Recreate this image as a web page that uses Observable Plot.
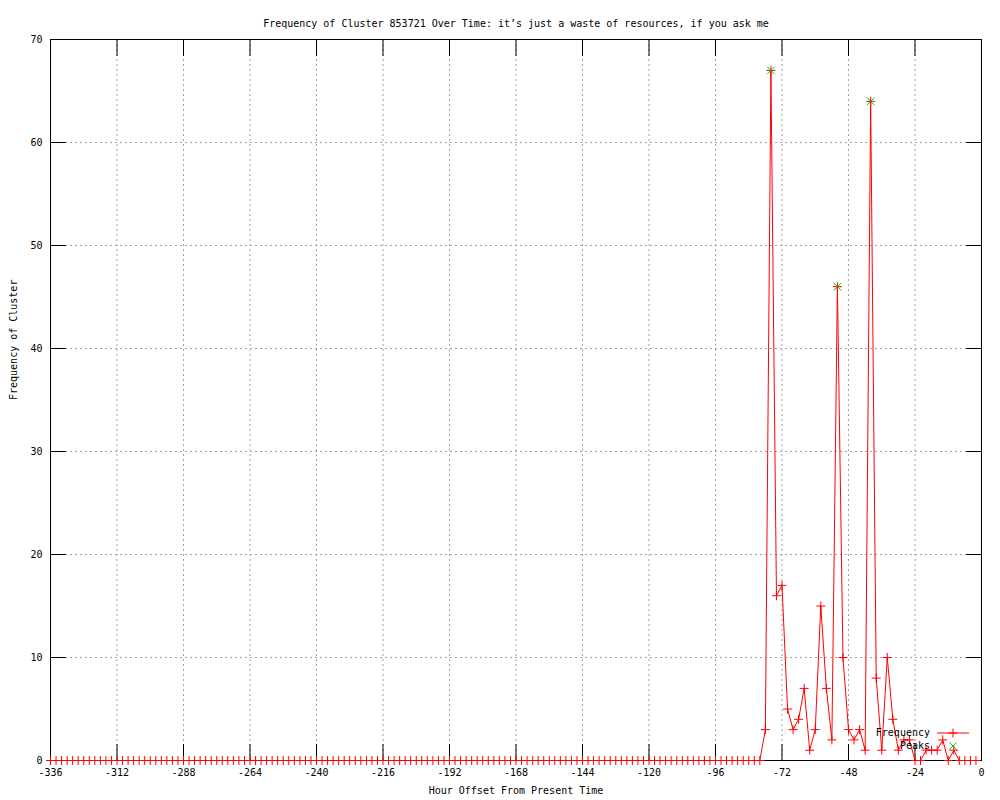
<!DOCTYPE html>
<html>
<head>
<meta charset="utf-8">
<script src="https://cdn.jsdelivr.net/npm/d3@7"></script>
<script src="https://cdn.jsdelivr.net/npm/@observablehq/plot@0.6"></script>
<style>
  html, body { margin: 0; padding: 0; background: #fff; }
  #chart svg { display: block; }
</style>
</head>
<body>
<div id="chart"></div>
<script>
const titleText = "Frequency of Cluster 853721 Over Time: it\u2019s just a waste of resources, if you ask me";
const xLabel = "Hour Offset From Present Time";
const yLabel = "Frequency of Cluster";

// hours (every 2 hours from -336 to -2)
const hours = d3.range(-336, 0, 2);
// frequency counts
const counts = [
  0,0,0,0,0,0,0,0,0,0,0,0,0,0,0,0,0,0,0,0,0,0,0,0,0,0,0,0,0,0,0,0,
  0,0,0,0,0,0,0,0,0,0,0,0,0,0,0,0,0,0,0,0,0,0,0,0,0,0,0,0,0,0,0,0,
  0,0,0,0,0,0,0,0,0,0,0,0,0,0,0,0,0,0,0,0,0,0,0,0,0,0,0,0,0,0,0,0,
  0,0,0,0,0,0,0,0,0,0,0,0,0,0,0,0,0,0,0,0,0,0,0,0,0,0,0,0,0,0,0,0,
  0, 3, 67, 16, 17, 5, 3, 4, 7, 1, 3, 15, 7, 2, 46, 10, 3, 2, 3, 1,
  64, 8, 1, 10, 4, 1, 2, 2, 0, 0, 1, 1, 1, 2, 0, 1, 0, 0, 0, 0
];
const peakHours = [-76, -52, -40];
const peakCounts = [67, 46, 64];

const xTicks = d3.range(-336, 1, 24);
const yTicks = d3.range(0, 71, 10);

const freq = hours.map((h, i) => ({hour: h, count: counts[i]}));
const peaks = peakHours.map((h, i) => ({hour: h, count: peakCounts[i]}));

const FONT = "DejaVu Sans Mono";
const RED = "#ff0000";
const GREEN = "#00c000";

const chart = Plot.plot({
  width: 1000,
  height: 800,
  marginLeft: 50,
  marginRight: 19,
  marginTop: 39,
  marginBottom: 40,
  style: {fontFamily: FONT, fontSize: "10px", color: "#000", background: "#fff"},
  x: {domain: [-336, 0], ticks: xTicks},
  y: {domain: [0, 70], ticks: yTicks},
  marks: [
    Plot.gridX(xTicks, {stroke: "#a0a0a0", strokeOpacity: 1, strokeDasharray: "2,3"}),
    Plot.gridY(yTicks, {stroke: "#a0a0a0", strokeOpacity: 1, strokeDasharray: "2,3"}),
    Plot.axisX(xTicks, {anchor: "bottom", tickSize: 0, tickPadding: 8, tickFormat: d => d === 0 ? "0" : String(d).replace("\u2212", "-"), label: null, fontSize: 10}),
    Plot.axisX(xTicks, {anchor: "bottom", tickSize: -16, text: null, label: null}),
    Plot.axisX(xTicks, {anchor: "top", tickSize: -16, text: null, label: null}),
    Plot.axisY(yTicks, {anchor: "left", tickSize: 0, tickPadding: 8, tickFormat: d => String(d), label: null, fontSize: 10}),
    Plot.axisY(yTicks, {anchor: "left", tickSize: -16, text: null, label: null}),
    Plot.axisY(yTicks, {anchor: "right", tickSize: -16, text: null, label: null}),
    Plot.frame({stroke: "#000", strokeWidth: 1}),
    Plot.line(freq, {x: "hour", y: "count", stroke: RED, strokeWidth: 1}),
    Plot.dot(freq, {x: "hour", y: "count", symbol: "plus", r: 3, stroke: RED, strokeWidth: 1}),
    Plot.dot(peaks, {x: "hour", y: "count", symbol: "times", r: 3.5, stroke: GREEN, strokeWidth: 1}),
    Plot.text([titleText], {frameAnchor: "top", dy: -20, fontSize: 10, fill: "#000"}),
    Plot.text([xLabel], {frameAnchor: "bottom", dy: 33, fontSize: 10, fill: "#000"}),
    Plot.text([yLabel], {frameAnchor: "left", dx: -37, rotate: -90, fontSize: 10, fill: "#000"})
  ]
});

// Legend (inside plot area, lower right)
const svg = d3.select(chart);
const lg = svg.append("g").attr("font-family", FONT).attr("font-size", 10);
lg.append("text").attr("x", 930).attr("y", 733).attr("dy", "0.32em").attr("text-anchor", "end").text("Frequency");
lg.append("line").attr("x1", 937).attr("x2", 969).attr("y1", 733).attr("y2", 733).attr("stroke", RED);
lg.append("path").attr("d", d3.symbol(d3.symbolPlus, 28)()).attr("transform", "translate(953,733)").attr("fill", "none").attr("stroke", RED);
lg.append("text").attr("x", 930).attr("y", 746).attr("dy", "0.32em").attr("text-anchor", "end").text("Peaks");
lg.append("path").attr("d", d3.symbol(d3.symbolTimes, 34)()).attr("transform", "translate(953,746)").attr("fill", "none").attr("stroke", GREEN);

document.getElementById("chart").appendChild(chart);
</script>
</body>
</html>
